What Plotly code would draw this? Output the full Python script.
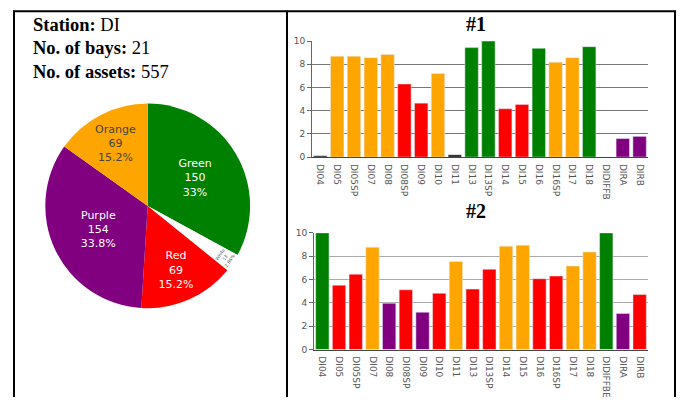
import plotly.graph_objects as go

W, H = 686, 402

# ---------------- data ----------------
station = "DI"
n_bays = 21
n_assets = 557

pie_labels = ["Green", "White", "Red", "Purple", "Orange"]
pie_values = [150, 13, 69, 154, 69]

bays1 = ["DI04", "DI05", "DI05SP", "DI07", "DI08", "DI08SP", "DI09", "DI10", "DI11",
         "DI13", "DI13SP", "DI14", "DI15", "DI16", "DI16SP", "DI17", "DI18",
         "DIDIFFB", "DIRA", "DIRB"]
values1 = [0.12, 8.7, 8.7, 8.57, 8.85, 6.3, 4.65, 7.2, 0.2,
           9.44, 10.0, 4.17, 4.54, 9.38, 8.18, 8.57, 9.52,
           0.0, 1.6, 1.79]
class1 = ["Black", "Orange", "Orange", "Orange", "Orange", "Red", "Red", "Orange", "Black",
          "Green", "Green", "Red", "Red", "Green", "Orange", "Orange", "Green",
          "Black", "Purple", "Purple"]

bays2 = ["DI04", "DI05", "DI05SP", "DI07", "DI08", "DI08SP", "DI09", "DI10", "DI11",
         "DI13", "DI13SP", "DI14", "DI15", "DI16", "DI16SP", "DI17", "DI18",
         "DIDIFFBE", "DIRA", "DIRB"]
values2 = [10.0, 5.52, 6.46, 8.77, 3.97, 5.12, 3.2, 4.82, 7.55,
           5.18, 6.88, 8.86, 8.94, 6.07, 6.3, 7.16, 8.36,
           10.0, 3.09, 4.71]
class2 = ["Green", "Red", "Red", "Orange", "Purple", "Red", "Purple", "Red", "Orange",
          "Red", "Red", "Orange", "Orange", "Red", "Red", "Orange", "Orange",
          "Green", "Purple", "Red"]

# ---------------- styles ----------------
palette = {"Green": "#008000", "White": "#ffffff", "Red": "#ff0000",
           "Purple": "#800080", "Orange": "#ffa500", "Black": "#111111"}


def px(x):
    return x / W


def py(y):
    return 1 - y / H


fig = go.Figure()

# pie
cx, cy, r = 147.7, 206, 105
fig.add_trace(go.Pie(
    labels=pie_labels, values=pie_values, sort=False, direction="clockwise",
    marker=dict(colors=[palette[l] for l in pie_labels], line=dict(width=0)),
    textinfo="label+value+percent", textposition="inside",
    insidetextorientation="auto",
    textfont=dict(family="DejaVu Sans", size=11),
    domain=dict(x=[px(cx - r), px(cx + r)], y=[py(cy + r), py(cy - r)]),
    showlegend=False, hoverinfo="label+value+percent",
))

fig.add_trace(go.Bar(x=bays1, y=values1, marker_color=[palette[c] for c in class1],
                     xaxis="x", yaxis="y", showlegend=False))
fig.add_trace(go.Bar(x=bays2, y=values2, marker_color=[palette[c] for c in class2],
                     xaxis="x2", yaxis="y2", showlegend=False))

tickfont = dict(family="DejaVu Sans", size=9, color="#555")
common_x = dict(tickangle=90, tickfont=tickfont, showline=True, linecolor="#444",
                linewidth=1, ticks="outside", ticklen=4, tickcolor="rgba(0,0,0,0)",
                showgrid=False)
common_y = dict(range=[0, 10], dtick=2, tickfont=tickfont, showline=True,
                linecolor="#666", linewidth=1, ticks="outside", ticklen=4,
                tickcolor="#666", zeroline=False)

fig.update_layout(
    width=W, height=H, margin=dict(l=0, r=0, t=0, b=0),
    paper_bgcolor="white", plot_bgcolor="white", bargap=0.2,
    xaxis=dict(domain=[px(312), px(648)], anchor="y", **common_x),
    yaxis=dict(domain=[py(156), py(37)], anchor="x", gridcolor="#777", **common_y),
    xaxis2=dict(domain=[px(314), px(648)], anchor="y2", **common_x),
    yaxis2=dict(domain=[py(353.3), py(233.7)], anchor="x2", gridcolor="#aaa", **common_y),
)

serif = "Liberation Serif"
left_lines = [f"<b>Station:</b> {station}",
              f"<b>No. of bays:</b> {n_bays}",
              f"<b>No. of assets:</b> {n_assets}"]
for i, t in enumerate(left_lines):
    fig.add_annotation(text=t, x=px(31), y=py(20 + 24.5 * i), xref="paper", yref="paper",
                       xanchor="left", yanchor="middle", showarrow=False,
                       font=dict(family=serif, size=18.5, color="black"))

for t, yy in [("<b>#1</b>", 19), ("<b>#2</b>", 211)]:
    fig.add_annotation(text=t, x=px(476), y=py(yy), xref="paper", yref="paper",
                       xanchor="center", yanchor="middle", showarrow=False,
                       font=dict(family=serif, size=20, color="black"))

# table borders
line = dict(color="black", width=2)
fig.add_shape(type="line", xref="paper", yref="paper", x0=px(13), x1=px(676), y0=py(6.5), y1=py(6.5), line=line)
for xx in (14, 287, 675):
    fig.add_shape(type="line", xref="paper", yref="paper", x0=px(xx), x1=px(xx), y0=py(6), y1=py(402), line=line)

fig.write_html("out.html", config={"displayModeBar": False},
               post_script="document.body.style.margin='0';document.body.style.overflow='hidden';")
